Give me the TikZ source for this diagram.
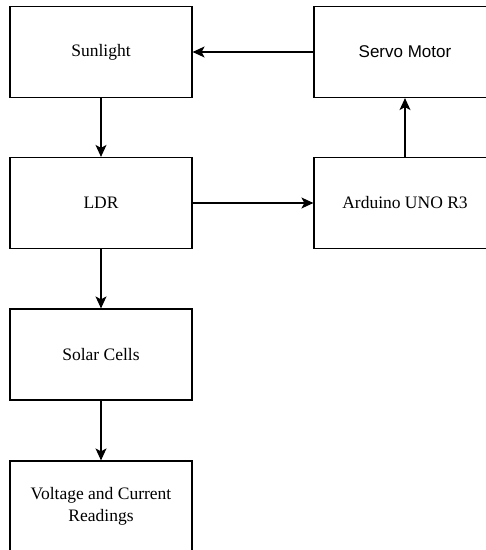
\documentclass[tikz,border=0pt]{standalone}
\usepackage{fontspec}
\setmainfont{Liberation Serif}
\newfontfamily\arialfont{Liberation Sans}
\usetikzlibrary{arrows.meta}
\tikzset{
  blockbox/.style={draw=black, line width=1.2pt, minimum width=182pt, minimum height=91pt, inner sep=0pt,
    font=\fontsize{17.5pt}{22pt}\selectfont, align=center},
  conn/.style={draw=black, line width=1.2pt, -{Stealth[length=12pt,width=11pt,inset=3pt]}}
}
\begin{document}
\begin{tikzpicture}[x=1pt,y=-1pt]
\useasboundingbox (0,0) rectangle (486,550);
\clip (0,0) rectangle (486,550);
\fill[white] (0,0) rectangle (486,550);
\node[blockbox] (sun) at (101,52) {Sunlight};
\node[blockbox] (ldr) at (101,203) {LDR};
\node[blockbox] (solar) at (101,354.5) {Solar Cells};
\node[blockbox] (volt) at (101,506.5) {Voltage and Current\\Readings};
\node[blockbox, font=\arialfont\fontsize{17pt}{22pt}\selectfont] (servo) at (405,52) {Servo Motor};
\node[blockbox] (ard) at (405,203) {Arduino UNO R3};
\draw[conn] (servo) -- (sun);
\draw[conn] (sun) -- (ldr);
\draw[conn] (ldr) -- (ard);
\draw[conn] (ard) -- (servo);
\draw[conn] (ldr) -- (solar);
\draw[conn] (solar) -- (volt);
\end{tikzpicture}
\end{document}
